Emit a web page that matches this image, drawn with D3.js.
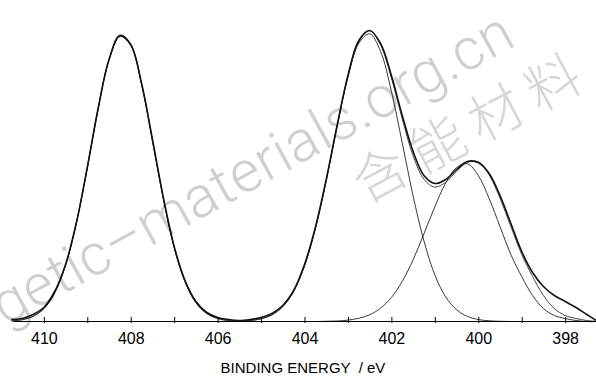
<!DOCTYPE html>
<html>
<head>
<meta charset="utf-8">
<script src="https://cdnjs.cloudflare.com/ajax/libs/d3/7.8.5/d3.min.js"></script>
<style>
  body { margin: 0; background: #fff; }
  svg { display: block; }
</style>
</head>
<body>
<div id="chart"></div>
<script>
// binding energy grid (eV), every 0.25 eV
var energy = [410.75, 410.5, 410.25, 410, 409.75, 409.5, 409.25, 409, 408.75, 408.5,
              408.25, 408, 407.75, 407.5, 407.25, 407, 406.75, 406.5, 406.25, 406,
              405.75, 405.5, 405.25, 405, 404.75, 404.5, 404.25, 404, 403.75, 403.5,
              403.25, 403, 402.75, 402.5, 402.25, 402, 401.75, 401.5, 401.25, 401,
              400.75, 400.5, 400.25, 400, 399.75, 399.5, 399.25, 399, 398.75, 398.5,
              398.25, 398, 397.75, 397.5, 397.25];

// measured spectrum
var raw = [2, 3, 7, 14, 30, 57, 99, 154, 213, 262,
           286, 277, 238, 182, 124, 75, 41, 20, 9, 4,
           2, 1, 2, 4, 8, 16, 31, 57, 94, 142,
           196, 246, 281, 291, 278, 246, 206, 170, 146, 138,
           142, 152, 160, 159, 148, 126, 98, 70, 49, 35,
           26, 20, 14, 7, 0];

// fitted envelope
var envelope = [0.6, 1.8, 5.1, 12.8, 28.6, 56.3, 98.9, 153.7, 212.9, 261.3,
                285, 276.2, 237.5, 181.1, 123.1, 74.0, 39.7, 18.8, 8.0, 3.0,
                1.0, 0.6, 1.0, 2.7, 6.6, 14.9, 30.2, 55.6, 93.1, 141.1,
                195.0, 245.1, 279.6, 290.9, 276.9, 243.6, 202.6, 165.7, 142.2, 134.4,
                139.3, 150.3, 159.0, 159.7, 146.7, 123.2, 95, 67, 45, 26,
                13, 6, 3, 1, 0];

// fitted components (null = not drawn)
var peak408 = [0.6, 1.8, 5.1, 12.8, 28.6, 56.3, 98.9, 153.7, 212.9, 261.3,
               285, 276.2, 237.5, 181.1, 123.1, 74.0, 39.7, 18.8, 8.0, 3.0,
               1.0, 0.3, 0, null, null, null, null, null, null, null,
               null, null, null, null, null, null, null, null, null, null,
               null, null, null, null, null, null, null, null, null, null,
               null, null, null, null, null];
var peak402 = [null, null, null, null, null, null, null, null, null, null,
               null, null, null, null, null, null, null, null, null, 0,
               0, 0.3, 1.0, 2.7, 6.6, 14.9, 30.2, 55.6, 93.1, 141.1,
               195.0, 244.6, 278.2, 287.7, 270.2, 230.3, 178.6, 125.6, 80.5, 46.6,
               24.6, 11.8, 5.1, 2.0, 0.7, 0.2, 0, 0, null, null,
               null, null, null, null, null];
var peak400 = [null, null, null, null, null, null, null, null, null, null,
               null, null, null, null, null, null, null, null, null, null,
               null, null, null, null, null, null, null, null, 0, 0.2,
               0.5, 1.4, 3.2, 6.7, 13.3, 24.0, 40.1, 61.7, 87.8, 114.7,
               138.5, 153.9, 157.7, 146, 123, 95, 67, 45, 26, 13,
               6, 3, 1, 0, 0];

var majorTicks = [410, 408, 406, 404, 402, 400, 398];
var minorTicks = [409, 407, 405, 403, 401, 399];

var width = 596, height = 376;
var baseY = 321;

var svg = d3.select("#chart").append("svg")
            .attr("width", width)
            .attr("height", height);

var x = d3.scaleLinear().domain([410.71, 397.29]).range([13, 596]);
var y = d3.scaleLinear().domain([0, 300]).range([baseY + 0.5, 21.5]);

/* watermark, sits behind the curves */
svg.append("text")
   .attr("transform", "translate(254,172) rotate(-28.8)")
   .attr("text-anchor", "middle")
   .attr("dominant-baseline", "middle")
   .attr("textLength", 585)
   .style("font-family", "Roboto, 'Liberation Sans', Arial, sans-serif")
   .style("font-size", "58px")
   .style("font-weight", 300)
   .style("fill", "#cfcfcf")
   .text("getic\u2013materials.org.cn");

svg.append("text")
   .attr("transform", "translate(469,133) rotate(-28)")
   .attr("text-anchor", "middle")
   .attr("dominant-baseline", "middle")
   .attr("textLength", 250)
   .style("font-family", "'Noto Sans CJK SC', sans-serif")
   .style("font-size", "54px")
   .style("font-weight", 300)
   .style("fill", "#d6d6d6")
   .text("含能材料");

function lineFor(values) {
  return d3.line()
           .defined(function(d, i) { return values[i] != null; })
           .x(function(d, i) { return x(energy[i]); })
           .y(function(d, i) { return y(values[i]); })
           .curve(d3.curveCatmullRom)(energy);
}

// components first, then envelope, measured data on top
[peak408, peak402, peak400].forEach(function(c) {
  svg.append("path")
     .attr("d", lineFor(c))
     .style("fill", "none")
     .style("stroke", "#222")
     .style("stroke-width", 0.9);
});

svg.append("path")
   .attr("d", lineFor(envelope))
   .style("fill", "none")
   .style("stroke", "#333")
   .style("stroke-width", 0.9);

svg.append("path")
   .attr("d", lineFor(raw))
   .style("fill", "none")
   .style("stroke", "#111")
   .style("stroke-width", 1.6);

// x axis: labelled even ticks, unlabelled odd ticks
var axisG = svg.append("g")
               .attr("transform", "translate(0," + baseY + ")")
               .call(d3.axisBottom(x).tickValues(majorTicks).tickSizeInner(-4).tickSizeOuter(0)
                       .tickPadding(12).tickFormat(d3.format("d")));
axisG.selectAll(".tick line").attr("y1", 2);

var minorG = svg.append("g")
                .attr("transform", "translate(0," + baseY + ")")
                .call(d3.axisBottom(x).tickValues(minorTicks).tickSizeInner(-4).tickSizeOuter(0)
                        .tickFormat(""));
minorG.select(".domain").remove();
minorG.selectAll(".tick line").attr("y1", 2);

svg.selectAll(".tick text")
   .style("font-family", "'Liberation Sans', Arial, sans-serif")
   .style("font-size", "16px")
   .style("fill", "#000");
svg.selectAll(".domain, .tick line").style("stroke", "#000");

svg.append("text")
   .attr("x", 303)
   .attr("y", 373)
   .attr("text-anchor", "middle")
   .style("font-family", "'Liberation Sans', Arial, sans-serif")
   .style("font-size", "15px")
   .style("white-space", "pre")
   .text("BINDING ENERGY  / eV");
</script>
</body>
</html>
